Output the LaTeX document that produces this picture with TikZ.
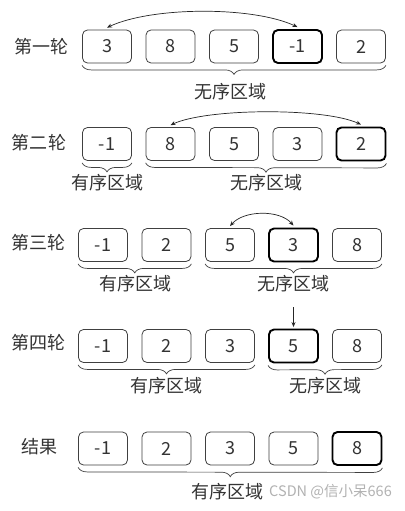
\documentclass[tikz,border=0pt]{standalone}
\usepackage{fontspec}
\setmainfont{Noto Sans CJK SC}
\usetikzlibrary{arrows.meta,decorations.pathreplacing}
\begin{document}
\begin{tikzpicture}[x=1pt,y=-1pt,
  every node/.style={font=\fontsize{18}{21}\selectfont, text=black!80},
  cell/.style={draw=black!75, line width=0.8pt, rounded corners=5pt, minimum width=49pt, minimum height=33pt, inner sep=0pt},
  hot/.style={cell, draw=black, line width=1.9pt},
  brc/.style={draw=black!75, line width=0.7pt, decorate, decoration={brace, mirror, amplitude=9pt}},
  arr/.style={draw=black!85, line width=0.7pt, {Stealth[length=5pt,width=4pt]}-{Stealth[length=5pt,width=4pt]}},
  arrone/.style={draw=black!85, line width=0.7pt, -{Stealth[length=5pt,width=4pt]}},
  lbl/.style={inner sep=0pt}
]
\useasboundingbox (0,0) rectangle (404,511);
\fill[white] (0,0) rectangle (404,511);

% row labels
\node[lbl] (l1) at (41,47) {第一轮};
\node[lbl] (l2) at (39,143) {第二轮};
\node[lbl] (l3) at (38,243) {第三轮};
\node[lbl] (l4) at (38,343) {第四轮};
\node[lbl] (l5) at (39,447) {结果};

% row 1
\node[cell] (a1) at (107,46.5) {3};
\node[cell] (a2) at (170.5,46.5) {8};
\node[cell] (a3) at (234,46.5) {5};
\node[hot]  (a4) at (297.5,46.5) {-1};
\node[cell] (a5) at (361,46.5) {2};
\draw[arr] ([yshift=2pt]a1.north) .. controls +(45,-21) and +(-45,-21) .. ([yshift=2pt]a4.north);
\draw[brc] ([yshift=-2pt]a1.south west) -- ([yshift=-2pt]a5.south east);
\node[lbl] (ta) at (230,92) {无序区域};

% row 2
\node[cell] (b1) at (107,144) {-1};
\node[cell] (b2) at (170.5,144) {8};
\node[cell] (b3) at (234,144) {5};
\node[cell] (b4) at (297.5,144) {3};
\node[hot]  (b5) at (361,144) {2};
\draw[arr] ([yshift=2pt]b2.north) .. controls +(37,-17) and +(-37,-17) .. ([yshift=2pt]b5.north);
\draw[brc] ([yshift=-2pt]b1.south west) -- ([yshift=-2pt]b1.south east);
\draw[brc] ([yshift=-2pt]b2.south west) -- ([yshift=-2pt]b5.south east);
\node[lbl] (tb1) at (107,183) {有序区域};
\node[lbl] (tb2) at (266,183) {无序区域};

% row 3
\node[cell] (c1) at (103,245) {-1};
\node[cell] (c2) at (166.5,245) {2};
\node[cell] (c3) at (230,245) {5};
\node[hot]  (c4) at (293.5,245) {3};
\node[cell] (c5) at (357,245) {8};
\draw[arr] ([yshift=2pt]c3.north) .. controls +(14,-16) and +(-14,-16) .. ([yshift=2pt]c4.north);
\draw[brc] ([yshift=-2pt]c1.south west) -- ([yshift=-2pt]c2.south east);
\draw[brc] ([yshift=-2pt]c3.south west) -- ([yshift=-2pt]c5.south east);
\node[lbl] (tc1) at (135,284) {有序区域};
\node[lbl] (tc2) at (293.5,284) {无序区域};

% row 4
\node[cell] (d1) at (103,346) {-1};
\node[cell] (d2) at (166.5,346) {2};
\node[cell] (d3) at (230,346) {3};
\node[hot]  (d4) at (293.5,346) {5};
\node[cell] (d5) at (357,346) {8};
\coordinate (dtop) at (293.5,307);
\draw[arrone] (dtop) -- ([yshift=1.5pt]d4.north);
\draw[brc] ([yshift=-2pt]d1.south west) -- ([yshift=-2pt]d3.south east);
\draw[brc] ([yshift=-2pt]d4.south west) -- ([yshift=-2pt]d5.south east);
\node[lbl] (td1) at (166.5,386) {有序区域};
\node[lbl] (td2) at (325,386) {无序区域};

% row 5
\node[cell] (e1) at (103,448.5) {-1};
\node[cell] (e2) at (166.5,448.5) {2};
\node[cell] (e3) at (230,448.5) {3};
\node[cell] (e4) at (293.5,448.5) {5};
\node[hot]  (e5) at (357,448.5) {8};
\draw[brc] ([yshift=-2pt]e1.south west) -- ([yshift=-2pt]e5.south east);
\node[lbl] (te) at (227,492) {有序区域};
\node[lbl, anchor=east, text=black!30, font=\fontsize{14.5}{17}\selectfont] (wm) at (392,492) {CSDN @信小呆666};
\end{tikzpicture}
\end{document}
